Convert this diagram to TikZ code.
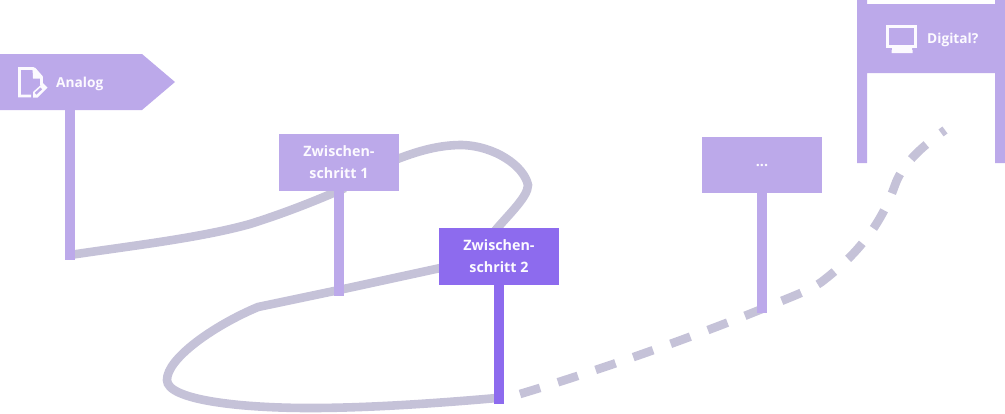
\documentclass[tikz,border=0pt]{standalone}
\usepackage{fontspec}
\setmainfont{Open Sans}
\definecolor{lightv}{HTML}{BCA9EA}
\definecolor{darkv}{HTML}{8D6BEE}
\definecolor{pathgray}{HTML}{C5C2D8}
\definecolor{txt}{HTML}{FCFAFF}
\tikzset{
 signbox/.style={draw=none,fill=lightv,minimum width=120pt,minimum height=56.5pt,inner sep=0pt,align=center,text=txt,font=\fontsize{14.3}{22}\selectfont\bfseries},
 labeltext/.style={inner sep=0pt,text=txt,font=\fontsize{13.7}{22}\selectfont\bfseries},
 pole/.style={line width=10pt,draw=lightv},
 trail/.style={line width=8.6pt,draw=pathgray},
 dashtrail/.style={trail,dash pattern=on 21pt off 18.7pt},
 iconline/.style={draw=txt,line width=2.8pt},
}
\begin{document}
\begin{tikzpicture}[x=1pt,y=-1pt]
\useasboundingbox (0,0) rectangle (1005,413);
% free ends and bends
\coordinate (a0) at (70,255);
\coordinate (z1in) at (345,188);
\coordinate (z1out) at (395,160);
\coordinate (z2in) at (494,232);
\coordinate (z2out) at (445,267);
\coordinate (p1) at (339,290);
\coordinate (t2) at (258,307);
\coordinate (t3) at (167,380);
\coordinate (z2join) at (497,398);
\coordinate (d0) at (520,394);
\coordinate (d9) at (945,130);
\coordinate (analogfoot) at (70,110);
\coordinate (analogend) at (70,260);
\coordinate (z1end) at (339,296);
\coordinate (z2end) at (499,404);
\coordinate (dotsend) at (762,313);
% trails
\draw[trail] (a0) .. controls (130,246) and (200,238) .. (250,224)
  .. controls (285,213) and (315,201) .. (z1in);
\draw[trail] (z1out) .. controls (425,148) and (445,145) .. (462,145)
  .. controls (495,146) and (524,166) .. (528,185)
  .. controls (528,197) and (508,215) .. (z2in);
\draw[trail] (z2out) -- (p1) -- (t2)
  .. controls (215,325) and (167,358) .. (t3)
  .. controls (167,400) and (240,408) .. (310,408)
  .. controls (370,408) and (440,403) .. (z2join);
\draw[dashtrail] (d0) .. controls (600,370) and (690,338) .. (762,309)
  .. controls (790,297) and (812,290) .. (824,280)
  .. controls (860,252) and (882,222) .. (895,185)
  .. controls (902,165) and (920,148) .. (d9);
% signs
\node[signbox] (z1) at (339,162.5) {Zwischen-\\schritt 1};
\node[signbox,fill=darkv] (z2) at (499,256.5) {Zwischen-\\schritt 2};
\node[signbox] (dots) at (762,165) {...};
% poles
\draw[pole] (analogfoot) -- (analogend);
\draw[pole] (z1.south) -- (z1end);
\draw[pole,draw=darkv] (z2.south) -- (z2end);
\draw[pole] (dots.south) -- (dotsend);
% Analog sign
\fill[lightv] (0,54) -- (142,54) -- (175,82) -- (142,110) -- (0,110) -- cycle;
\node[labeltext,anchor=west] (analog) at (56,84) {Analog};
\draw[iconline] (31,96) -- (19.5,96) -- (19.5,68.5) -- (33,68.5) -- (41.5,77.5) -- (41.5,85);
\fill[txt] (32.5,67.5) -- (35,67.5) -- (42.5,76) -- (42.5,78.5) -- (33,78.5) -- cycle;
\fill[txt] (33,92) -- (43,83) -- (47.5,87.5) -- (37.5,97.5) -- (33,97.5) -- cycle;
\fill[lightv] (34.8,92.8) -- (40.5,87.5) -- (42.2,89.2) -- (36.5,94.5) -- cycle;
% Digital sign
\fill[lightv] (857,0) -- (867,0) -- (867,4) -- (995,4) -- (995,0) -- (1005,0) -- (1005,163)
  -- (995,163) -- (995,73) -- (867,73) -- (867,163) -- (857,163) -- cycle;
\node[labeltext,anchor=west] (digital) at (927,40) {Digital?};
\draw[iconline] (887.3,26.3) rectangle (915.7,46.7);
\fill[txt] (892,48) rectangle (912,50) (891.5,50) rectangle (912.5,53);
\end{tikzpicture}
\end{document}
